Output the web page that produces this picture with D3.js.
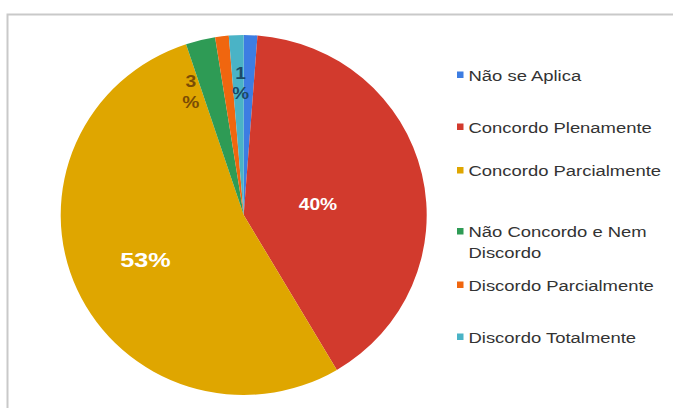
<!DOCTYPE html>
<html><head><meta charset="utf-8">
<script src="https://cdn.jsdelivr.net/npm/d3@7"></script>
<style>
html,body{margin:0;padding:0;background:#fff;overflow:hidden;}
svg{display:block;}
text{font-family:"Liberation Sans",Arial,sans-serif;}
</style></head>
<body>
<svg id="chart" width="673" height="408"></svg>
<script>
// ---- data ----
const categories = ["Não se Aplica","Concordo Plenamente","Concordo Parcialmente","Não Concordo e Nem Discordo","Discordo Parcialmente","Discordo Totalmente"];
const values = [1.2, 40.3, 53.4, 2.6, 1.2, 1.3];
const colors = ["#3d7de2","#d23a2d","#dfa600","#2e9b55","#f0660f","#4ab3c6"];
const showLabel = [false, true, true, true, false, true];

// ---- layout (not data) ----
const cx = 243.7, cy = 215, rx = 183, ry = 180;
const labelRadius = [0.5, 0.41, 0.59, 0.75, 0.5, 0.74];
const labelAngleShift = [0, 5, 0, -9, 0, 1]; // degrees
const svg = d3.select("#chart");

// frame (top and left edges visible; continues past right/bottom)
svg.append("path").attr("d","M7.5,420 V14.5 H700").attr("fill","none")
  .attr("stroke","#c9c9c9").attr("stroke-width",2);

const pie = d3.pie().sort(null).value(d => d).startAngle(0).endAngle(2*Math.PI);
const arcs = pie(values);
const arc = d3.arc().innerRadius(0).outerRadius(rx);

const g = svg.append("g").attr("transform", `translate(${cx},${cy}) scale(1,${ry/rx})`);
g.selectAll("path").data(arcs).enter().append("path")
  .attr("d", arc).attr("fill", (d,i) => colors[i]);

// labels
const lg = svg.append("g").attr("transform", `translate(${cx},${cy})`);
arcs.forEach((d,i) => {
  if (!showLabel[i]) return;
  const a = (d.startAngle + d.endAngle)/2 + labelAngleShift[i]*Math.PI/180;
  const r = rx*labelRadius[i];
  const x = Math.sin(a)*r, y = -Math.cos(a)*r*(ry/rx);
  const pct = Math.round(values[i]);
  const big = values[i] > 10;
  const t = lg.append("text").attr("text-anchor","middle")
    .attr("transform", `translate(${x},${y}) scale(1.2,1)`);
  if (big) {
    t.attr("dy","0.36em").attr("fill","#fff").attr("font-weight","bold")
     .attr("font-size", values[i] > 50 ? 21 : 16).text(pct + "%");
  } else {
    t.attr("fill", i === 3 ? "#7a4c05" : "#1c4a66").attr("font-size",16).attr("font-weight","bold");
    t.append("tspan").attr("x",0).attr("dy","-0.2em").text(pct);
    t.append("tspan").attr("x",0).attr("dy","1.3em").text("%");
  }
});

// legend
const legendY = [75, 127, 170.5, 231.5, 285, 337];
const legend = svg.append("g");
categories.forEach((c,i) => {
  legend.append("rect").attr("x",457).attr("y",legendY[i]-3.5).attr("width",6.5).attr("height",6.5).attr("fill",colors[i]);
  const words = c === "Não Concordo e Nem Discordo" ? ["Não Concordo e Nem","Discordo"] : [c];
  words.forEach((w,j) => {
    legend.append("text").attr("transform",`translate(468.5,${legendY[i]+j*21}) scale(1.19,1)`)
      .attr("dy","0.36em").attr("font-size",15.5).attr("fill","#333").text(w);
  });
});
</script>
</body></html>
